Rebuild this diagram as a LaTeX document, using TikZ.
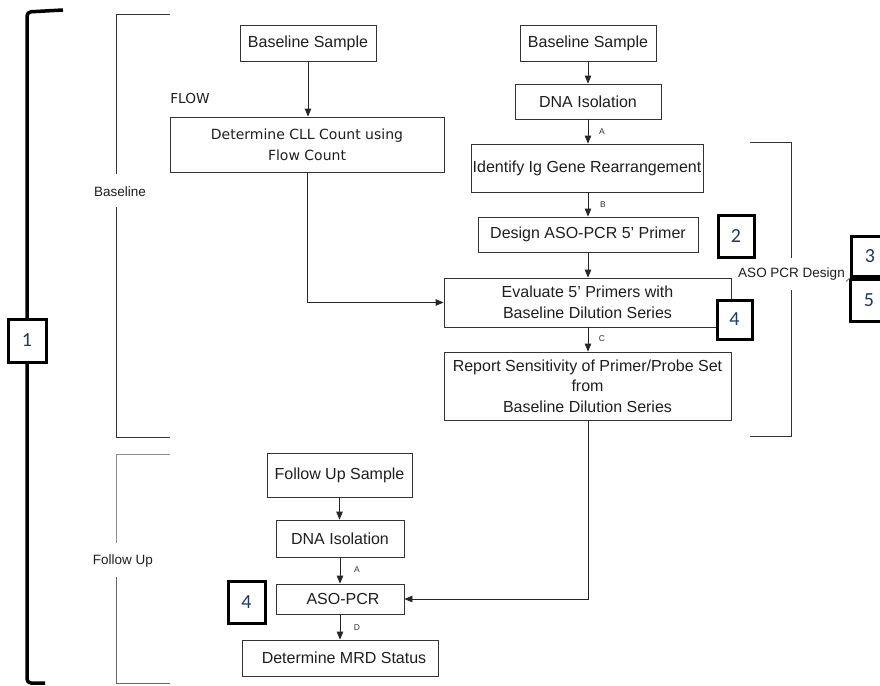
\documentclass[tikz,border=0pt]{standalone}
\usepackage{fontspec}
\setmainfont{Liberation Sans}
\newfontfamily\tahfont{DejaVu Sans}
\newfontfamily\calfont{Carlito}
\usetikzlibrary{arrows.meta}
\definecolor{numblue}{RGB}{31,56,100}
\definecolor{ink}{RGB}{30,30,30}
\begin{document}
\begin{tikzpicture}[x=1pt,y=-1pt,
  box/.style={draw=black!80,line width=0.8pt,inner sep=0pt,align=center,text=ink,font=\fontsize{16}{20.5}\selectfont},
  tbox/.style={box,font=\tahfont\fontsize{14}{21}\selectfont},
  numbox/.style={draw=black,line width=3pt,fill=white,inner sep=0pt,text=numblue,font=\calfont\fontsize{20}{24}\selectfont},
  arr/.style={-{Triangle[length=8pt,width=6.5pt]},line width=0.8pt,draw=black!85},
  lbl/.style={font=\fontsize{8.5}{10}\selectfont,text=black!80,inner sep=0pt},
  brk/.style={line width=0.8pt,draw=black!80},
  side/.style={font=\fontsize{13.5}{16}\selectfont,text=ink,inner sep=0pt}
]
\useasboundingbox (0,0) rectangle (880,685);
\clip (0,0) rectangle (880,685);

% big bracket 1
\draw[line width=3.5pt,rounded corners=4pt] (63,10) -- (27,12) -- (27,683) -- (45,683);

% Baseline bracket
\draw[brk] (170,14) -- (116,14) -- (116,174);
\draw[brk] (116,207) -- (116,437) -- (170,437);
\node[side] (lbase) at (120,192) {Baseline};

% Follow Up bracket
\draw[line width=0.8pt,draw=black!45] (170,454) -- (116,454) -- (116,543);
\draw[line width=0.8pt,draw=black!60] (116,577) -- (116,683) -- (170,683);
\node[side] (lfu) at (123,561) {Follow Up};

% ASO PCR Design bracket
\draw[brk] (750,142) -- (791,142) -- (791,258);
\draw[brk] (791,290) -- (791,436) -- (750,436);
\node[side] (ldes) at (791.5,274) {ASO PCR Design};

% left column
\node[box,minimum width=136pt,minimum height=36pt] (bs1) at (308,43) {Baseline Sample};
\node[text=ink,inner sep=0pt,font=\tahfont\fontsize{13.7}{16}\selectfont] (flow) at (190,99) {FLOW};
\node[tbox,minimum width=274pt,minimum height=55pt] (cll) at (307,144.5) {Determine CLL Count using\\Flow Count};

% right column
\node[box,minimum width=136pt,minimum height=36pt] (bs2) at (588,43) {Baseline Sample};
\node[box,minimum width=146pt,minimum height=35pt] (dna1) at (588,101.5) {DNA Isolation};
\node[box,minimum width=232pt,minimum height=48pt] (ig) at (587,168) {Identify Ig Gene Rearrangement};
\node[box,minimum width=220pt,minimum height=35pt] (des) at (588,234.5) {Design ASO-PCR 5’ Primer};
\node[box,minimum width=287pt,minimum height=49pt] (eval) at (587.5,302.5) {Evaluate 5’ Primers with\\Baseline Dilution Series};
\node[box,minimum width=287pt,minimum height=68pt] (rep) at (587.5,386) {Report Sensitivity of Primer/Probe Set\\from\\Baseline Dilution Series};

% follow up column
\node[box,minimum width=145pt,minimum height=44pt] (fus) at (339.5,475) {Follow Up Sample};
\node[box,minimum width=128pt,minimum height=37pt] (dna2) at (340,538.5) {DNA Isolation};
\node[box,minimum width=128pt,minimum height=30pt] (aso) at (340,599) {\hspace{6pt}ASO-PCR};
\node[box,minimum width=196pt,minimum height=36pt] (mrd) at (340,658) {\hspace{8pt}Determine MRD Status};

% connectors
\draw[arr] (bs1.south) -- (bs1.south |- cll.north);
\draw[arr] (bs2.south) -- (bs2.south |- dna1.north);
\draw[arr] (dna1.south) -- (dna1.south |- ig.north);
\draw[arr] (ig.south -| dna1.south) -- (dna1.south |- des.north);
\draw[arr] (des.south) -- (des.south |- eval.north);
\draw[arr] (eval.south -| des.south) -- (des.south |- rep.north);
\draw[arr] (cll.south) |- (eval.west);
\draw[arr] (rep.south -| des.south) |- (aso.east);
\draw[arr] (fus.south) -- (fus.south |- dna2.north);
\draw[arr] (dna2.south) -- (dna2.south |- aso.north);
\draw[arr] (aso.south) -- (aso.south |- mrd.north);

% connector labels
\node[lbl] (la1) at (602,132) {A};
\node[lbl] (lb) at (603,205) {B};
\node[lbl] (lc) at (602,339) {C};
\node[lbl] (la2) at (357,570) {A};
\node[lbl] (ld) at (357,628) {D};

% numbered boxes
\node[numbox,minimum width=38pt,minimum height=43pt] (n1) at (27,340.5) {1};
\node[numbox,minimum width=36pt,minimum height=42pt] (n2) at (736,236) {2};
\node[numbox,minimum width=35pt,minimum height=39pt] (n4a) at (734.5,319.5) {4};
\node[numbox,minimum width=37pt,minimum height=40pt] (n3) at (870,256.5) {3};
\node[numbox,minimum width=38pt,minimum height=42pt] (n5) at (869,300) {5};
\node[numbox,minimum width=37pt,minimum height=42pt] (n4b) at (246.5,602) {4};

\draw[line width=1pt,draw=black!50] (ldes.south east) ++(1pt,-1pt) -- (n3.south west);
\end{tikzpicture}
\end{document}
